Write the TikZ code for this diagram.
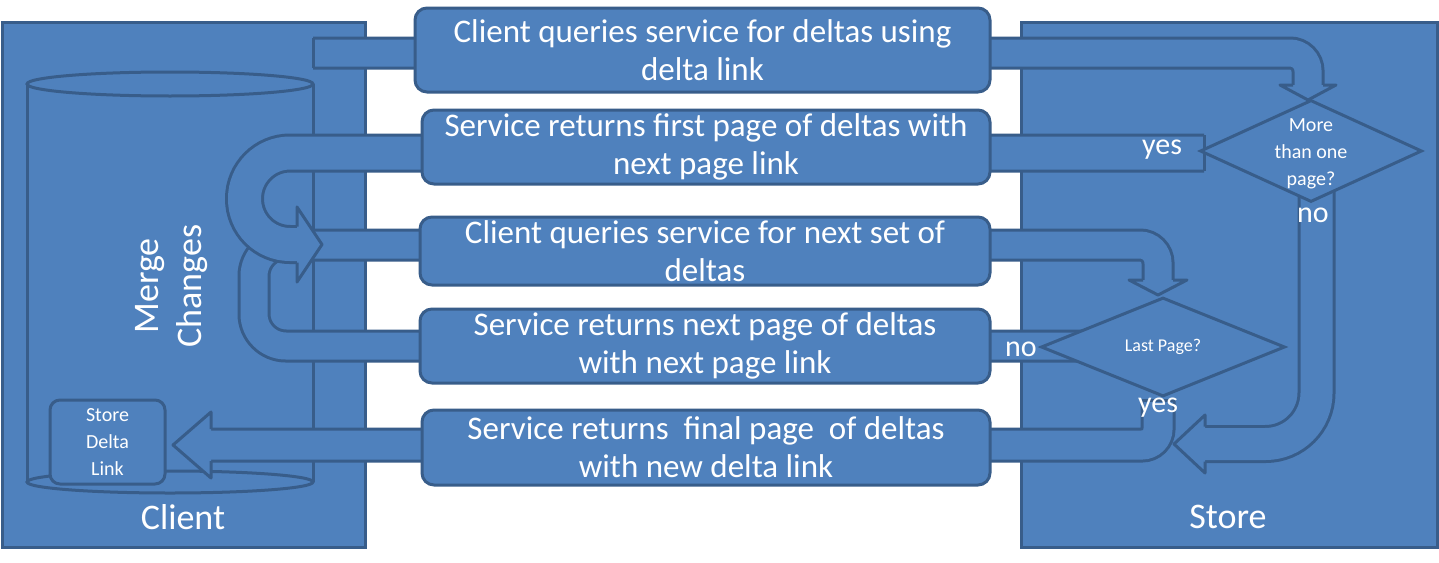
\documentclass[tikz,border=0pt]{standalone}
\usepackage{fontspec}
\setmainfont{Carlito}
\usetikzlibrary{shapes.geometric}
\definecolor{boxfill}{HTML}{4F81BD}
\definecolor{boxline}{HTML}{385D8A}
\tikzset{
  outline/.style={draw=boxline, line width=3pt},
  area/.style={outline, fill=boxfill, inner sep=0pt},
  taskbox/.style={area, rounded corners=12pt, text=white, align=center,
    font=\fontsize{33}{38}\selectfont},
  decision/.style={area, shape=diamond},
  flowband/.style={outline, double=boxfill, double distance=#1},
  label/.style={text=white, font=\fontsize{30}{36}\selectfont},
  small/.style={text=white, align=center, font=\fontsize{20}{27}\selectfont},
  pics/bhead/.style n args={3}{code={
    \fill[boxfill] (0,-#2) -- (#3,0) -- (0,#2) -- cycle;
    \draw[outline, line join=round] (0,-#1) -- (0,-#2) -- (#3,0) -- (0,#2) -- (0,#1);
  }},
}
\begin{document}
\begin{tikzpicture}[x=1pt, y=-1pt]
  \useasboundingbox[fill=white] (0,0) rectangle (1439,562);
  % the two parties
  \node[area, minimum width=363pt, minimum height=525pt] (client) at (183.5,284.5) {};
  \node[area, minimum width=416pt, minimum height=525pt] (store) at (1229,284.5) {};
  % database of the client
  \draw[outline] (27,84) -- (27,482) (313,84) -- (313,482);
  \draw[outline] (170,482) ellipse [x radius=143pt, y radius=11pt];
  \draw[outline] (170,84) ellipse [x radius=143pt, y radius=12pt];
  \node[rotate=90, align=center, text=white, font=\fontsize{36}{43}\selectfont] (merge) at (172,286) {Merge\\Changes};

  % block arrows
  \draw[flowband=27pt, rounded corners=18pt] (313,53) -- (1308,53) -- (1308,86);
  \draw[outline] (313,38) -- (313,68);
  \pic[rotate=-90] at (1308,85) {bhead={15}{28}{15}};
  \draw[flowband=27pt, rounded corners=18pt] (310,245) -- (1158,245) -- (1158,281);
  \pic[rotate=-90] at (1158,280) {bhead={15}{29}{15}};
  \draw[flowband=27pt, rounded corners=32pt] (1090,346) -- (254,346) -- (254,244) -- (300,244);
  \draw[flowband=33pt, rounded corners=45.5pt] (1204,153) -- (244.5,153) -- (244.5,244.5) -- (298,244.5);
  \draw[outline] (1204,135) -- (1204,171);
  \pic at (297,244.5) {bhead={18}{37.5}{25}};
  \draw[flowband=29pt, rounded corners=16pt] (1158,400) -- (1158,445) -- (210,445);
  \draw[outline] (1142,400) -- (1174,400);
  \pic[rotate=180] at (211,445) {bhead={16}{33}{38}};
  \draw[flowband=32pt, rounded corners=51pt] (1316.5,190) -- (1316.5,444) -- (1204,444);
  \pic[rotate=180] at (1205,444) {bhead={17.5}{29}{31}};

  % steps
  \node[taskbox, minimum width=575pt, minimum height=84pt] (q1) at (702.5,50) {Client queries service for deltas using\\delta link};
  \node[taskbox, minimum width=568pt, minimum height=74pt] (r1) at (706,147) {Service returns first page of deltas with\\next page link};
  \node[taskbox, minimum width=570pt, minimum height=68pt] (q2) at (705,251) {Client queries service for next set of\\deltas};
  \node[taskbox, minimum width=570pt, minimum height=74pt] (r2) at (705,346) {Service returns next page of deltas\\with next page link};
  \node[taskbox, minimum width=568pt, minimum height=75pt] (r3) at (706,447.5) {Service returns~ final page~ of deltas\\with new delta link};

  % decisions
  \node[decision, minimum width=222pt, minimum height=102pt] (more) at (1311,151) {};
  \node[small] (moretext) at ([yshift=-3pt]more.center) {More\\than one\\page?};
  \node[decision, minimum width=244pt, minimum height=99pt] (last) at (1163,347) {};
  \node[small, font=\fontsize{18}{24}\selectfont] (lasttext) at (last.center) {Last Page?};
  \node[label] (yes1) at (1162,150) {yes};
  \node[label] (no1) at (1313,215) {no};
  \node[label] (no2) at (1021,349) {no};
  \node[label] (yes2) at (1158,408) {yes};

  \node[area, rounded corners=10pt, minimum width=115pt, minimum height=84pt, small] (keep) at (107.5,442) {Store\\Delta\\Link};
  \node[text=white, font=\fontsize{36}{43}\selectfont] (clientname) at (183,517) {Client};
  \node[text=white, font=\fontsize{36}{43}\selectfont] (storename) at (1228,517) {Store};
\end{tikzpicture}
\end{document}
